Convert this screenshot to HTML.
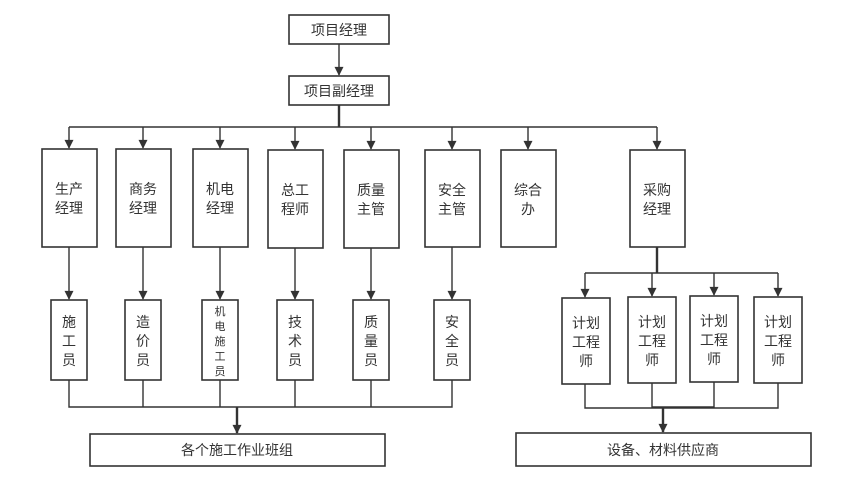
<!DOCTYPE html>
<html><head><meta charset="utf-8"><style>
html,body{margin:0;padding:0;background:#fff;}
svg{display:block;}
text{font-family:"Liberation Sans","Noto Sans CJK SC",sans-serif;font-size:14px;fill:#333;text-anchor:middle;dominant-baseline:central;}
.b{fill:#fff;stroke:#333;stroke-width:1.6;}
.l{fill:none;stroke:#333;stroke-width:1.4;}
.a{fill:#333;}
</style></head><body>
<svg width="850" height="481" viewBox="0 0 850 481" xmlns="http://www.w3.org/2000/svg">
<defs><marker id="m" viewBox="0 0 10 10" refX="9" refY="5" markerWidth="10" markerHeight="9" orient="auto" markerUnits="userSpaceOnUse"><path d="M0,0 L10,5 L0,10 z" class="a"/></marker></defs>
<rect class="b" x="289" y="15" width="100" height="29"/><text x="339" y="30">项目经理</text>
<line class="l" x1="339" y1="44" x2="339" y2="75" marker-end="url(#m)"/>
<rect class="b" x="289" y="76" width="100" height="29"/><text x="339" y="91">项目副经理</text>
<line class="l" x1="339" y1="105" x2="339" y2="127" style="stroke-width:2.4"/>
<line class="l" x1="69" y1="127" x2="657" y2="127"/>
<g class="l">
<line x1="69" y1="127" x2="69" y2="148" marker-end="url(#m)"/>
<line x1="143" y1="127" x2="143" y2="148" marker-end="url(#m)"/>
<line x1="220" y1="127" x2="220" y2="148" marker-end="url(#m)"/>
<line x1="295" y1="127" x2="295" y2="149" marker-end="url(#m)"/>
<line x1="371" y1="127" x2="371" y2="149" marker-end="url(#m)"/>
<line x1="452" y1="127" x2="452" y2="149" marker-end="url(#m)"/>
<line x1="528" y1="127" x2="528" y2="149" marker-end="url(#m)"/>
<line x1="657" y1="127" x2="657" y2="149" marker-end="url(#m)"/>
</g>
<rect class="b" x="42" y="149" width="55" height="98"/><text x="69" y="189">生产</text><text x="69" y="208">经理</text>
<rect class="b" x="116" y="149" width="55" height="98"/><text x="143" y="189">商务</text><text x="143" y="208">经理</text>
<rect class="b" x="193" y="149" width="55" height="98"/><text x="220" y="189">机电</text><text x="220" y="208">经理</text>
<rect class="b" x="268" y="150" width="55" height="98"/><text x="295" y="190">总工</text><text x="295" y="209">程师</text>
<rect class="b" x="344" y="150" width="55" height="98"/><text x="371" y="190">质量</text><text x="371" y="209">主管</text>
<rect class="b" x="425" y="150" width="55" height="97"/><text x="452" y="190">安全</text><text x="452" y="209">主管</text>
<rect class="b" x="501" y="150" width="55" height="97"/><text x="528" y="190">综合</text><text x="528" y="209">办</text>
<rect class="b" x="630" y="150" width="55" height="97"/><text x="657" y="190">采购</text><text x="657" y="209">经理</text>
<g class="l">
<line x1="69" y1="247" x2="69" y2="299" marker-end="url(#m)"/>
<line x1="143" y1="247" x2="143" y2="299" marker-end="url(#m)"/>
<line x1="220" y1="247" x2="220" y2="299" marker-end="url(#m)"/>
<line x1="295" y1="248" x2="295" y2="299" marker-end="url(#m)"/>
<line x1="371" y1="248" x2="371" y2="299" marker-end="url(#m)"/>
<line x1="452" y1="247" x2="452" y2="299" marker-end="url(#m)"/>
</g>
<rect class="b" x="51" y="300" width="36" height="80"/><text x="69" y="322">施</text><text x="69" y="341">工</text><text x="69" y="360">员</text>
<rect class="b" x="125" y="300" width="36" height="80"/><text x="143" y="322">造</text><text x="143" y="341">价</text><text x="143" y="360">员</text>
<rect class="b" x="202" y="300" width="36" height="80"/>
<text x="220" y="312" style="font-size:11px">机</text><text x="220" y="327" style="font-size:11px">电</text><text x="220" y="342" style="font-size:11px">施</text><text x="220" y="357" style="font-size:11px">工</text><text x="220" y="372" style="font-size:11px">员</text>
<rect class="b" x="277" y="300" width="36" height="80"/><text x="295" y="322">技</text><text x="295" y="341">术</text><text x="295" y="360">员</text>
<rect class="b" x="353" y="300" width="36" height="80"/><text x="371" y="322">质</text><text x="371" y="341">量</text><text x="371" y="360">员</text>
<rect class="b" x="434" y="300" width="36" height="80"/><text x="452" y="322">安</text><text x="452" y="341">全</text><text x="452" y="360">员</text>
<polyline class="l" points="69,380 69,407 452,407 452,380"/>
<g class="l">
<line x1="143" y1="380" x2="143" y2="407"/>
<line x1="220" y1="380" x2="220" y2="407"/>
<line x1="295" y1="380" x2="295" y2="407"/>
<line x1="371" y1="380" x2="371" y2="407"/>
</g>
<line class="l" x1="237" y1="407" x2="237" y2="433" style="stroke-width:2.4" marker-end="url(#m)"/>
<rect class="b" x="90" y="434" width="295" height="32"/><text x="237" y="450">各个施工作业班组</text>
<line class="l" x1="657" y1="247" x2="657" y2="273" style="stroke-width:2.4"/>
<line class="l" x1="585" y1="273" x2="778" y2="273"/>
<g class="l">
<line x1="585" y1="273" x2="585" y2="297" marker-end="url(#m)"/>
<line x1="652" y1="273" x2="652" y2="296" marker-end="url(#m)"/>
<line x1="714" y1="273" x2="714" y2="295" marker-end="url(#m)"/>
<line x1="778" y1="273" x2="778" y2="296" marker-end="url(#m)"/>
</g>
<rect class="b" x="562" y="298" width="48" height="86"/><text x="586" y="323">计划</text><text x="586" y="342">工程</text><text x="586" y="361">师</text>
<rect class="b" x="628" y="297" width="48" height="86"/><text x="652" y="322">计划</text><text x="652" y="341">工程</text><text x="652" y="360">师</text>
<rect class="b" x="690" y="296" width="48" height="86"/><text x="714" y="321">计划</text><text x="714" y="340">工程</text><text x="714" y="359">师</text>
<rect class="b" x="754" y="297" width="48" height="86"/><text x="778" y="322">计划</text><text x="778" y="341">工程</text><text x="778" y="360">师</text>
<polyline class="l" points="585,384 585,408 778,408 778,383"/>
<polyline class="l" points="652,383 652,408"/>
<polyline class="l" points="714,382 714,407 652,407"/>
<line class="l" x1="663" y1="408" x2="663" y2="432" style="stroke-width:2.4" marker-end="url(#m)"/>
<rect class="b" x="516" y="433" width="295" height="33"/><text x="663" y="450">设备、材料供应商</text>
</svg>
</body></html>
